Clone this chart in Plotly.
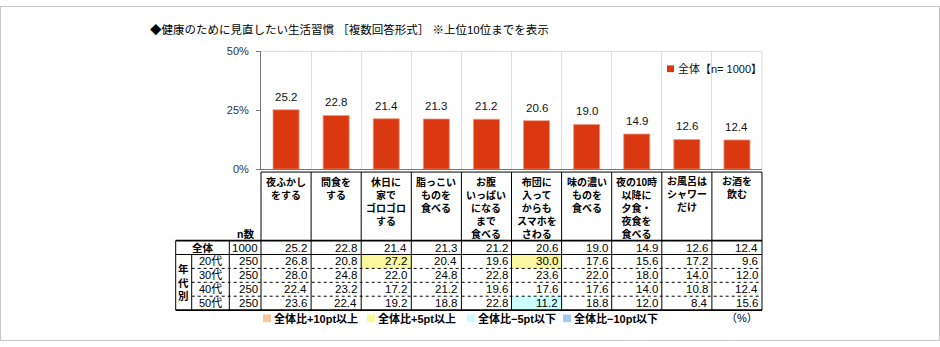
import plotly.graph_objects as go

# ---------------- data ----------------
title_text = "◆健康のために見直したい生活習慣 ［複数回答形式］ ※上位10位までを表示"
categories = [
    "夜ふかし<br>をする",
    "間食を<br>する",
    "休日に<br>家で<br>ゴロゴロ<br>する",
    "脂っこい<br>ものを<br>食べる",
    "お腹<br>いっぱい<br>になる<br>まで<br>食べる",
    "布団に<br>入って<br>からも<br>スマホを<br>さわる",
    "味の濃い<br>ものを<br>食べる",
    "夜の10時<br>以降に<br>夕食・<br>夜食を<br>食べる",
    "お風呂は<br>シャワー<br>だけ",
    "お酒を<br>飲む",
]
total = [25.2, 22.8, 21.4, 21.3, 21.2, 20.6, 19.0, 14.9, 12.6, 12.4]
age_labels = ["20代", "30代", "40代", "50代"]
age20 = [26.8, 20.8, 27.2, 20.4, 19.6, 30.0, 17.6, 15.6, 17.2, 9.6]
age30 = [28.0, 24.8, 22.0, 24.8, 22.8, 23.6, 22.0, 18.0, 14.0, 12.0]
age40 = [22.4, 23.2, 17.2, 21.2, 19.6, 17.6, 17.6, 14.0, 10.8, 12.4]
age50 = [23.6, 22.4, 19.2, 18.8, 22.8, 11.2, 18.8, 12.0, 8.4, 15.6]
n_total = 1000
n_ages = [250, 250, 250, 250]
yticks = [0, 25, 50]
ytick_text = ["0%", "25%", "50%"]
legend_name = "全体【n= 1000】"
key_labels = ["全体比+10pt以上", "全体比+5pt以上", "全体比−5pt以下", "全体比−10pt以下"]
key_colors = ["#FAC59B", "#FAF79E", "#CCFDFD", "#A3CBF5"]

# ---------------- geometry helpers ----------------
W, H = 940, 347
FONT = "Liberation Sans, Noto Sans CJK JP, sans-serif"
BAR_COLOR = "#DA3810"
PL, PR, PT, PB = 261, 762, 47, 169  # plot area in px


def X(px):
    return px / W


def Y(py):
    return 1 - py / H


ncol = len(categories)
colw = (PR - PL) / ncol


def colx(i):
    return PL + i * colw


fig = go.Figure()
fig.add_trace(go.Bar(
    x=list(range(ncol)), y=total, width=0.52,
    marker=dict(color=BAR_COLOR, line=dict(color="#F09A80", width=0.8)),
    showlegend=False, hoverinfo="skip",
))

shapes = []
annotations = []

# bar value labels
for i, v in enumerate(total):
    annotations.append(dict(x=i, y=v, xref="x", yref="y", xanchor="center", yanchor="bottom",
                            yshift=5, showarrow=False, text=f"{v:.1f}",
                            font=dict(size=11.5, color="#111", family=FONT)))

# title
annotations.append(dict(x=X(148), y=Y(24), xref="paper", yref="paper", xanchor="left",
                        yanchor="middle", showarrow=False, text=title_text,
                        font=dict(size=11.5, color="#000", family=FONT)))

# plot borders (top, right)
shapes.append(dict(type="line", xref="paper", yref="paper", x0=X(PL), x1=X(PR), y0=Y(PT), y1=Y(PT),
                   line=dict(color="#dcdcdc", width=1)))
shapes.append(dict(type="line", xref="paper", yref="paper", x0=X(PR), x1=X(PR), y0=Y(PT), y1=Y(PB),
                   line=dict(color="#dcdcdc", width=1)))

# legend
shapes.append(dict(type="rect", xref="paper", yref="paper", x0=X(667), x1=X(674), y0=Y(61.5), y1=Y(68.5),
                   fillcolor=BAR_COLOR, line=dict(width=0)))
annotations.append(dict(x=X(676), y=Y(65), xref="paper", yref="paper", xanchor="left", yanchor="middle",
                        showarrow=False, text=legend_name, font=dict(size=11, color="#111", family=FONT)))

# ---------------- table ----------------
T_TOP = 172
HEAD_BOT = 243
RH = 14.4
rows = [total, age20, age30, age40, age50]
row_n = [n_total] + n_ages
row_tops = [HEAD_BOT + k * RH for k in range(len(rows) + 1)]
T_LEFT, AGE_R, N_L = 175.7, 191.7, 229.3

# highlight cells
for r in range(1, len(rows)):
    for i in range(ncol):
        d = rows[r][i] - total[i]
        color = None
        if d >= 10:
            color = key_colors[0]
        elif d >= 5:
            color = key_colors[1]
        elif d <= -10:
            color = key_colors[3]
        elif d <= -5:
            color = key_colors[2]
        if color:
            shapes.append(dict(type="rect", xref="paper", yref="paper",
                               x0=X(colx(i)), x1=X(colx(i + 1)), y0=Y(row_tops[r]), y1=Y(row_tops[r + 1]),
                               fillcolor=color, line=dict(width=0), layer="below"))

black = dict(color="#000", width=1)
# vertical column lines
for i in range(ncol + 1):
    shapes.append(dict(type="line", xref="paper", yref="paper", x0=X(colx(i)), x1=X(colx(i)),
                       y0=Y(T_TOP), y1=Y(row_tops[-1]), line=black))
# top line of table
shapes.append(dict(type="line", xref="paper", yref="paper", x0=X(colx(0)), x1=X(colx(ncol)),
                   y0=Y(T_TOP), y1=Y(T_TOP), line=black))
# header bottom line and bottom line (thicker)
for yy in (HEAD_BOT, row_tops[-1]):
    shapes.append(dict(type="line", xref="paper", yref="paper", x0=X(T_LEFT), x1=X(colx(ncol)),
                       y0=Y(yy), y1=Y(yy), line=dict(color="#000", width=1.6)))
# line under total row
shapes.append(dict(type="line", xref="paper", yref="paper", x0=X(T_LEFT), x1=X(colx(ncol)),
                   y0=Y(row_tops[1]), y1=Y(row_tops[1]), line=black))
# dotted lines between age rows
for k in range(2, len(rows)):
    shapes.append(dict(type="line", xref="paper", yref="paper", x0=X(AGE_R), x1=X(colx(ncol)),
                       y0=Y(row_tops[k]), y1=Y(row_tops[k]), line=dict(color="#000", width=1, dash="dot")))
# left verticals
for xx, ys in ((T_LEFT, HEAD_BOT), (N_L, HEAD_BOT), (AGE_R, row_tops[1])):
    shapes.append(dict(type="line", xref="paper", yref="paper", x0=X(xx), x1=X(xx),
                       y0=Y(ys), y1=Y(row_tops[-1]), line=black))

# header labels
for i, cat in enumerate(categories):
    annotations.append(dict(x=i, y=Y(174), xref="x", yref="paper", xanchor="center", yanchor="top",
                            showarrow=False, text=f"<b>{cat}</b>", align="center",
                            font=dict(size=10, color="#000", family=FONT)))
annotations.append(dict(x=X((N_L + colx(0)) / 2), y=Y(236), xref="paper", yref="paper", xanchor="center",
                        yanchor="middle", showarrow=False, text="<b>n数</b>",
                        font=dict(size=10.5, color="#000", family=FONT)))

# row contents
for r, vals in enumerate(rows):
    yc = Y((row_tops[r] + row_tops[r + 1]) / 2)
    for i, v in enumerate(vals):
        annotations.append(dict(x=i + 0.5, y=yc, xref="x", yref="paper", xanchor="right", yanchor="middle",
                                xshift=-2, showarrow=False, text=f"{v:.1f}",
                                font=dict(size=11.5, color="#000", family=FONT)))
    annotations.append(dict(x=X(colx(0) - 1.5), y=yc, xref="paper", yref="paper", xanchor="right",
                            yanchor="middle", showarrow=False, text=str(row_n[r]),
                            font=dict(size=11.5, color="#000", family=FONT)))
    if r == 0:
        annotations.append(dict(x=X((T_LEFT + N_L) / 2), y=yc, xref="paper", yref="paper", xanchor="center",
                                yanchor="middle", showarrow=False, text="<b>全体</b>",
                                font=dict(size=10.5, color="#000", family=FONT)))
    else:
        annotations.append(dict(x=X((AGE_R + N_L) / 2), y=yc, xref="paper", yref="paper", xanchor="center",
                                yanchor="middle", showarrow=False, text=age_labels[r - 1],
                                font=dict(size=11, color="#000", family=FONT)))
annotations.append(dict(x=X((T_LEFT + AGE_R) / 2), y=Y((row_tops[1] + row_tops[-1]) / 2), xref="paper",
                        yref="paper", xanchor="center", yanchor="middle", showarrow=False,
                        text="<b>年<br>代<br>別</b>", font=dict(size=10.5, color="#000", family=FONT)))

# bottom key
key_sq = [263, 367, 467, 563]
for sx, lab, col in zip(key_sq, key_labels, key_colors):
    shapes.append(dict(type="rect", xref="paper", yref="paper", x0=X(sx), x1=X(sx + 8), y0=Y(319.5),
                       y1=Y(327.5), fillcolor=col, line=dict(width=0)))
    annotations.append(dict(x=X(sx + 9), y=Y(323.5), xref="paper", yref="paper", xanchor="left",
                            yanchor="middle", showarrow=False, text=f"<b>{lab}</b>",
                            font=dict(size=11, color="#000", family=FONT)))
annotations.append(dict(x=X(760), y=Y(323.5), xref="paper", yref="paper", xanchor="right", yanchor="middle",
                        showarrow=False, text="（%）", font=dict(size=11, color="#000", family=FONT)))

# outer frame
shapes.append(dict(type="rect", xref="paper", yref="paper", x0=X(0.5), x1=X(939.5), y0=Y(0.5), y1=Y(346.5),
                   line=dict(color="#c8c8c8", width=1.2)))

fig.update_layout(
    width=W, height=H, margin=dict(l=0, r=0, t=0, b=0),
    paper_bgcolor="white", plot_bgcolor="white",
    font=dict(family=FONT, color="#000"),
    xaxis=dict(domain=[X(PL), X(PR)], range=[-0.5, ncol - 0.5], tickvals=[i + 0.5 for i in range(ncol - 1)],
               showticklabels=False, showgrid=True, gridcolor="#dedede", gridwidth=1, zeroline=False,
               showline=True, linecolor="#777", ticks="", fixedrange=True),
    yaxis=dict(domain=[Y(PB), Y(PT)], range=[0, 50], tickvals=yticks, ticktext=ytick_text,
               ticks="outside", ticklen=4, tickcolor="#777", showline=True, linecolor="#777",
               showgrid=False, zeroline=False, tickfont=dict(size=11, color="#333", family=FONT),
               ticklabelstandoff=5, fixedrange=True),
    shapes=shapes, annotations=annotations, showlegend=False,
)

fig.write_html("out.html")
